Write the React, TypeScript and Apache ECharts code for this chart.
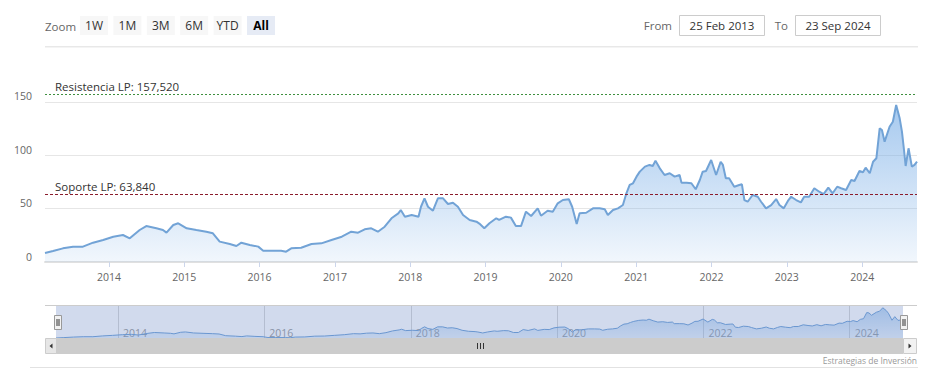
import React, { useEffect, useRef } from "react";
import * as echarts from "echarts";

const FONT = '"Open Sans", "Noto Sans", "DejaVu Sans", sans-serif';

// ---- data ----
const dates: string[] = [
  "2013-02-25", "2013-04-05", "2013-05-23", "2013-07-11", "2013-08-28", "2013-10-16", "2013-12-04",
  "2014-01-22", "2014-03-10", "2014-04-12", "2014-05-30", "2014-07-01", "2014-08-19", "2014-09-20",
  "2014-10-07", "2014-11-09", "2014-12-03",
  "2015-01-13", "2015-03-01", "2015-04-18", "2015-05-20", "2015-06-22", "2015-08-10", "2015-09-11",
  "2015-10-05", "2015-11-15", "2015-12-26",
  "2016-01-19", "2016-02-27", "2016-04-15", "2016-05-09", "2016-06-03", "2016-07-21", "2016-09-09",
  "2016-10-27", "2016-12-15",
  "2017-02-03", "2017-03-21", "2017-04-23", "2017-05-25", "2017-06-26", "2017-07-28", "2017-08-30",
  "2017-10-02", "2017-11-04", "2017-11-16", "2017-12-06",
  "2018-01-08", "2018-02-10", "2018-02-22", "2018-03-11", "2018-03-28", "2018-04-21", "2018-05-15",
  "2018-06-09", "2018-07-03", "2018-07-27", "2018-08-20", "2018-09-14", "2018-10-16", "2018-11-18",
  "2018-12-02", "2018-12-26",
  "2019-01-20", "2019-02-22", "2019-03-08", "2019-04-10", "2019-05-04", "2019-05-28", "2019-06-22",
  "2019-07-16", "2019-08-10", "2019-09-11", "2019-09-27", "2019-10-29", "2019-11-23", "2019-12-17",
  "2020-01-11", "2020-02-09", "2020-02-25", "2020-03-18", "2020-04-01", "2020-05-03", "2020-06-05",
  "2020-07-07", "2020-08-01", "2020-08-16", "2020-09-10", "2020-10-04", "2020-10-28", "2020-11-14",
  "2020-11-30", "2020-12-16",
  "2021-01-02", "2021-01-18", "2021-02-12", "2021-03-06", "2021-03-22", "2021-04-04", "2021-04-25",
  "2021-05-18", "2021-06-12", "2021-07-06", "2021-07-30", "2021-08-08", "2021-09-02", "2021-09-25",
  "2021-10-16", "2021-11-05", "2021-11-19", "2021-12-05", "2021-12-30",
  "2022-01-23", "2022-02-14", "2022-02-25", "2022-03-11", "2022-03-27", "2022-04-21", "2022-05-15",
  "2022-05-28", "2022-06-09", "2022-06-25", "2022-07-19", "2022-08-13", "2022-08-29", "2022-09-22",
  "2022-10-17", "2022-11-10", "2022-11-26", "2022-12-17",
  "2023-01-06", "2023-01-22", "2023-02-15", "2023-03-10", "2023-03-26", "2023-04-19", "2023-05-14",
  "2023-06-07", "2023-06-28", "2023-07-21", "2023-08-11", "2023-09-02", "2023-09-21", "2023-10-15",
  "2023-11-09", "2023-11-25", "2023-12-19",
  "2024-01-05", "2024-01-18", "2024-02-07", "2024-02-23", "2024-03-10", "2024-03-26", "2024-04-06",
  "2024-04-19", "2024-05-13", "2024-05-29", "2024-06-14", "2024-07-01", "2024-07-12", "2024-07-22",
  "2024-07-30", "2024-08-13", "2024-08-29", "2024-09-11", "2024-09-23",
];

const prices: number[] = [
  8.5, 10.3, 12.8, 14.4, 14.4, 18.1, 20.6,
  23.7, 25.3, 22.2, 30.0, 33.7, 31.6, 30.0,
  27.5, 34.7, 36.3,
  31.6, 30.0, 28.4, 26.9, 19.1, 16.9, 15.0,
  18.1, 15.9, 14.4,
  10.6, 10.6, 10.6, 9.7, 12.8, 13.4, 16.9,
  17.5, 20.6,
  23.7, 28.4, 27.5, 30.6, 31.6, 28.4, 33.1,
  41.0, 45.6, 48.7, 42.5,
  44.0, 42.5, 51.8, 59.7, 51.8, 48.1, 59.7,
  59.7, 54.4, 55.6, 51.8, 44.0, 39.4, 37.8,
  36.0, 31.6,
  36.3, 41.0, 39.4, 42.5, 41.6, 33.7, 33.7,
  47.2, 43.1, 50.3, 43.4, 48.1, 47.2, 55.0,
  58.1, 58.8, 51.8, 35.6, 45.6, 46.2, 50.3,
  50.3, 49.4, 44.0, 48.7, 50.3, 53.4, 64.4,
  72.2, 73.8,
  80.0, 84.7, 89.4, 91.0, 90.0, 95.0, 87.8,
  81.6, 83.2, 80.0, 81.6, 74.4, 74.4, 73.8,
  68.2, 76.9, 84.7, 85.3, 95.6,
  81.6, 94.0, 91.0, 78.5, 78.5, 70.6, 72.2,
  72.8, 58.1, 56.5, 62.8, 61.2, 56.5, 50.3,
  53.4, 59.0, 53.4, 50.3,
  57.2, 61.2, 58.1, 55.9, 61.2, 61.2, 69.1,
  65.9, 63.7, 69.7, 64.4, 70.6, 69.1, 67.5,
  76.9, 75.9, 85.3,
  84.1, 88.4, 83.2, 94.0, 97.2, 125.3, 123.7,
  112.8, 126.8, 131.5, 147.2, 134.7, 122.2, 105.0,
  90.0, 106.6, 89.4, 91.0, 94.0,
];

const mainYearTicks: string[] = ["2014", "2015", "2016", "2017", "2018", "2019", "2020", "2021", "2022", "2023", "2024"];
const navYearTicks: string[] = ["2014", "2016", "2018", "2020", "2022", "2024"];
const zoomButtons: string[] = ["1W", "1M", "3M", "6M", "YTD", "All"];
const selectedButton = "All";
const fromDate = "25 Feb 2013";
const toDate = "23 Sep 2024";
const startDate = "2013-02-25";
const endDate = "2024-09-23";
const resistanceValue = 157.52;
const supportValue = 63.84;
const resistanceLabel = "Resistencia LP: 157,520";
const supportLabel = "Soporte LP: 63,840";
const creditsText = "Estrategias de Inversión";

const toTs = (s: string) => {
  const [y, m, d] = s.split("-").map(Number);
  return Date.UTC(y, m - 1, d);
};
const yearTs = (y: string) => Date.UTC(Number(y), 0, 1);
const yearOf = (v: number) => String(new Date(v + 43200000).getUTCFullYear());

export default function App() {
  const ref = useRef<HTMLDivElement>(null);

  useEffect(() => {
    if (!ref.current) return;
    const chart = echarts.init(ref.current, undefined, { renderer: "svg" });
    const seriesData = dates.map((d, i) => [toTs(d), prices[i]]);
    const mainTicks = mainYearTicks.map(yearTs);
    const navTicks = navYearTicks.map(yearTs);
    const xMin = toTs(startDate);
    const xMax = toTs(endDate);

    const g: any[] = [];
    const txt = (x: number, y: number, text: string, size: number, color: string, align = "left", weight = "normal", z = 5) => ({
      type: "text",
      x,
      y,
      z,
      style: {
        text,
        fill: color,
        font: `${weight} ${size}px ${FONT}`,
        align,
        textAlign: align,
        verticalAlign: "middle",
        textVerticalAlign: "middle",
      },
    });

    // top separator
    g.push({ type: "line", shape: { x1: 45, y1: 46.5, x2: 918, y2: 46.5 }, style: { stroke: "#e8e8e8", lineWidth: 1 } });
    g.push({ type: "line", shape: { x1: 45, y1: 47.5, x2: 918, y2: 47.5 }, style: { stroke: "#f4f4f4", lineWidth: 1 } });
    // bottom separator
    g.push({ type: "line", shape: { x1: 30, y1: 367.5, x2: 918, y2: 367.5 }, style: { stroke: "#e2e2e2", lineWidth: 1 } });

    // range selector
    g.push(txt(45, 26, "Zoom", 11.5, "#666"));
    zoomButtons.forEach((b, i) => {
      const x = 80 + i * 33.4;
      const sel = b === selectedButton;
      g.push({ type: "rect", shape: { x, y: 16, width: 28, height: 19 }, style: { fill: sel ? "#e6ebf5" : "#f7f7f7" } });
      g.push(txt(x + 14, 25.5, b, 12, sel ? "#000" : "#333", "center", sel ? "bold" : "normal"));
    });
    g.push(txt(672, 25.5, "From", 11.5, "#666", "right"));
    g.push({ type: "rect", shape: { x: 679.5, y: 15.5, width: 85, height: 20 }, style: { fill: "#fff", stroke: "#cccccc", lineWidth: 1 } });
    g.push(txt(722, 25.5, fromDate, 11.5, "#333", "center"));
    g.push(txt(788, 25.5, "To", 11.5, "#666", "right"));
    g.push({ type: "rect", shape: { x: 795.5, y: 15.5, width: 85, height: 20 }, style: { fill: "#fff", stroke: "#cccccc", lineWidth: 1 } });
    g.push(txt(838, 25.5, toDate, 11.5, "#333", "center"));

    // navigator mask and outline
    g.push({ type: "rect", z: 10, shape: { x: 56, y: 305, width: 847, height: 33 }, style: { fill: "rgba(102,133,194,0.3)" } });
    g.push({ type: "line", z: 11, shape: { x1: 45, y1: 305.5, x2: 917, y2: 305.5 }, style: { stroke: "#cccccc", lineWidth: 1 } });
    // handles
    [54.5, 900.5].forEach((hx) => {
      g.push({ type: "rect", z: 12, shape: { x: hx, y: 315.5, width: 7, height: 14 }, style: { fill: "#f2f2f2", stroke: "#999", lineWidth: 1 } });
      g.push({ type: "line", z: 13, shape: { x1: hx + 2.5, y1: 319, x2: hx + 2.5, y2: 326 }, style: { stroke: "#333", lineWidth: 1 } });
      g.push({ type: "line", z: 13, shape: { x1: hx + 4.5, y1: 319, x2: hx + 4.5, y2: 326 }, style: { stroke: "#333", lineWidth: 1 } });
    });
    // scrollbar
    g.push({ type: "rect", z: 10, shape: { x: 56, y: 338, width: 847, height: 16 }, style: { fill: "#cccccc" } });
    g.push({ type: "rect", z: 11, shape: { x: 45.5, y: 338.5, width: 11, height: 15 }, style: { fill: "#e6e6e6", stroke: "#cccccc", lineWidth: 1 } });
    g.push({ type: "polygon", z: 12, shape: { points: [[49.5, 346], [52.5, 343.5], [52.5, 348.5]] }, style: { fill: "#333" } });
    g.push({ type: "rect", z: 11, shape: { x: 903.5, y: 338.5, width: 13, height: 15 }, style: { fill: "#f2f2f2", stroke: "#cccccc", lineWidth: 1 } });
    g.push({ type: "polygon", z: 12, shape: { points: [[911.5, 346], [908.5, 343.5], [908.5, 348.5]] }, style: { fill: "#333" } });
    [477.5, 480.5, 483.5].forEach((rx) => {
      g.push({ type: "line", z: 12, shape: { x1: rx, y1: 343, x2: rx, y2: 349 }, style: { stroke: "#333", lineWidth: 1 } });
    });

    // credits
    g.push(txt(917, 360, creditsText, 8.5, "#999", "right"));

    const option: any = {
      animation: false,
      textStyle: { fontFamily: FONT },
      grid: [
        { left: 45, right: 14, top: 75.33, height: 186.67 },
        { left: 56, right: 28, top: 305, height: 33 },
      ],
      xAxis: [
        {
          type: "value",
          gridIndex: 0,
          min: xMin,
          max: xMax,
          axisLine: { show: true, lineStyle: { color: "#e0e0e0", width: 2 } },
          axisTick: { show: true, customValues: mainTicks, length: 5, lineStyle: { color: "#ccd6eb" } },
          axisLabel: {
            customValues: mainTicks,
            formatter: (v: number) => yearOf(v),
            color: "#666",
            fontSize: 10.5,
            fontFamily: FONT,
            margin: 9,
          },
          splitLine: { show: false },
        },
        {
          type: "value",
          gridIndex: 1,
          min: xMin,
          max: xMax,
          axisLine: { show: false },
          axisTick: { show: false, customValues: navTicks },
          axisLabel: {
            customValues: navTicks,
            inside: true,
            formatter: (v: number) => yearOf(v),
            color: "#999",
            fontSize: 10.5,
            fontFamily: FONT,
            align: "left",
            padding: [0, 0, 0, 5],
            margin: 0,
          },
          splitLine: { show: true, lineStyle: { color: "#d6d6d6", width: 1 } },
        },
      ],
      yAxis: [
        {
          type: "value",
          gridIndex: 0,
          min: 0,
          max: 175,
          interval: 25,
          axisLine: { show: false },
          axisTick: { show: false },
          axisLabel: {
            formatter: (v: number) => (v % 50 === 0 ? String(v) : ""),
            color: "#666",
            fontSize: 10.5,
            fontFamily: FONT,
            margin: 13,
            verticalAlign: "bottom",
            lineHeight: 11,
          },
          splitLine: { show: true, lineStyle: { color: ["#e6e6e6", "rgba(0,0,0,0)"], width: 1 } },
        },
        {
          type: "value",
          gridIndex: 1,
          min: "dataMin",
          max: 160,
          show: false,
          splitLine: { show: false },
        },
      ],
      series: [
        {
          type: "line",
          xAxisIndex: 0,
          yAxisIndex: 0,
          data: seriesData,
          symbol: "none",
          showSymbol: false,
          lineStyle: { color: "#72a3d6", width: 2 },
          itemStyle: { color: "#72a3d6" },
          areaStyle: {
            origin: "start",
            color: new echarts.graphic.LinearGradient(
              0, 90, 0, 262,
              [
                { offset: 0, color: "rgba(118,172,230,1)" },
                { offset: 1, color: "rgba(118,172,230,0.14)" },
              ],
              true
            ),
          },
          markLine: {
            silent: true,
            symbol: "none",
            animation: false,
            label: {
              show: true,
              position: "insideStartTop",
              color: "#333",
              fontSize: 11.5,
              fontFamily: FONT,
              distance: [10, 1],
            },
            data: [
              {
                yAxis: resistanceValue,
                lineStyle: { color: "#3f8f3f", type: [2, 2], width: 1 },
                label: { formatter: resistanceLabel },
              },
              {
                yAxis: supportValue,
                lineStyle: { color: "#8b1c2c", type: [3, 2], width: 1 },
                label: { formatter: supportLabel },
              },
            ],
          },
        },
        {
          type: "line",
          xAxisIndex: 1,
          yAxisIndex: 1,
          data: seriesData,
          symbol: "none",
          showSymbol: false,
          lineStyle: { color: "#6c9fd6", width: 1 },
          itemStyle: { color: "#6c9fd6" },
          areaStyle: {
            origin: "start",
            color: new echarts.graphic.LinearGradient(
              0, 305, 0, 338,
              [
                { offset: 0, color: "rgba(124,177,232,0.8)" },
                { offset: 1, color: "rgba(124,177,232,0.25)" },
              ],
              true
            ),
          },
        },
      ],
      graphic: { elements: g },
    };

    chart.setOption(option);
    return () => chart.dispose();
  }, []);

  return (
    <div
      ref={ref}
      style={{ position: "fixed", left: 0, top: 0, width: 931, height: 382, background: "#fff" }}
    />
  );
}
